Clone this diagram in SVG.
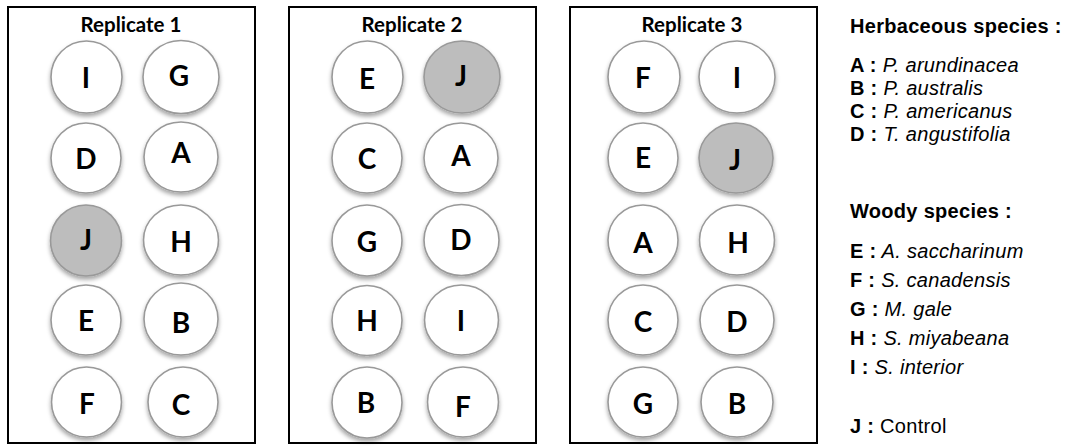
<svg xmlns="http://www.w3.org/2000/svg" width="1065" height="446" viewBox="0 0 1065 446">
<defs>
<style>
.box{fill:#fff;stroke:#000;stroke-width:2}
.c{fill:#fff;stroke:#999;stroke-width:1.6;filter:url(#sh)}
.g{fill:#bdbdbd;stroke:#999;stroke-width:1.6;filter:url(#sh)}
.l{font-family:Lato,"Open Sans","DejaVu Sans",sans-serif;font-weight:700;font-size:28px;fill:#000;text-anchor:middle}
.t{font-family:Lato,"Open Sans","DejaVu Sans",sans-serif;font-weight:700;font-size:20.5px;fill:#000;text-anchor:middle}
.leg{font-family:"Liberation Sans",Arial,sans-serif;font-size:20px;letter-spacing:0.3px;fill:#000}
.b{font-weight:700}
.i{font-style:italic}
</style>
<filter id="sh" x="-30%" y="-30%" width="160%" height="170%">
<feDropShadow dx="0" dy="3" stdDeviation="2.2" flood-color="#000" flood-opacity="0.35"/>
</filter>
</defs>
<rect width="1065" height="446" fill="#fff"/>

<g id="replicate1">
<rect class="box" x="8" y="7" width="247" height="436"/>
<text class="t" x="131" y="32">Replicate 1</text>
<g id="r1-I"><ellipse class="c" cx="86.5" cy="77" rx="35.5" ry="36"/><text class="l" x="86" y="88">I</text></g>
<g id="r1-G"><ellipse class="c" cx="181" cy="77" rx="38" ry="36.5"/><text class="l" x="179" y="86">G</text></g>
<g id="r1-D"><ellipse class="c" cx="86" cy="158" rx="35" ry="35"/><text class="l" x="86" y="169">D</text></g>
<g id="r1-A"><ellipse class="c" cx="181" cy="157" rx="37" ry="35"/><text class="l" x="181" y="163">A</text></g>
<g id="r1-J"><ellipse class="g" cx="86" cy="240.5" rx="35.5" ry="35.5"/><text class="l" x="86" y="250">J</text></g>
<g id="r1-H"><ellipse class="c" cx="181" cy="240" rx="37.5" ry="35"/><text class="l" x="181" y="252">H</text></g>
<g id="r1-E"><ellipse class="c" cx="86" cy="320" rx="35" ry="35"/><text class="l" x="86" y="331">E</text></g>
<g id="r1-B"><ellipse class="c" cx="181" cy="319" rx="37" ry="36"/><text class="l" x="181" y="333">B</text></g>
<g id="r1-F"><ellipse class="c" cx="86.5" cy="402" rx="35" ry="35"/><text class="l" x="87" y="414">F</text></g>
<g id="r1-C"><ellipse class="c" cx="183" cy="402" rx="35" ry="35"/><text class="l" x="181" y="415">C</text></g>
</g>

<g id="replicate2">
<rect class="box" x="289" y="7" width="247" height="436"/>
<text class="t" x="412" y="32">Replicate 2</text>
<g id="r2-E"><ellipse class="c" cx="367.5" cy="77" rx="35.5" ry="36"/><text class="l" x="367" y="89">E</text></g>
<g id="r2-J"><ellipse class="g" cx="462" cy="77" rx="38" ry="36"/><text class="l" x="461" y="86">J</text></g>
<g id="r2-C"><ellipse class="c" cx="367" cy="158" rx="35" ry="35"/><text class="l" x="367" y="169">C</text></g>
<g id="r2-A"><ellipse class="c" cx="461" cy="158" rx="37" ry="35"/><text class="l" x="461" y="166">A</text></g>
<g id="r2-G"><ellipse class="c" cx="367" cy="240.5" rx="35" ry="35.5"/><text class="l" x="367" y="252">G</text></g>
<g id="r2-D"><ellipse class="c" cx="461.5" cy="240" rx="37.5" ry="35.5"/><text class="l" x="461" y="250">D</text></g>
<g id="r2-H"><ellipse class="c" cx="367" cy="320.5" rx="35" ry="35"/><text class="l" x="367" y="331">H</text></g>
<g id="r2-I"><ellipse class="c" cx="461.5" cy="320" rx="37" ry="35"/><text class="l" x="461" y="331">I</text></g>
<g id="r2-B"><ellipse class="c" cx="367" cy="402.5" rx="35" ry="35.5"/><text class="l" x="366" y="413">B</text></g>
<g id="r2-F"><ellipse class="c" cx="463" cy="402" rx="35.5" ry="35"/><text class="l" x="463" y="417">F</text></g>
</g>

<g id="replicate3">
<rect class="box" x="570" y="7" width="247" height="436"/>
<text class="t" x="692" y="32">Replicate 3</text>
<g id="r3-F"><ellipse class="c" cx="644" cy="77" rx="36" ry="36"/><text class="l" x="643" y="88">F</text></g>
<g id="r3-I"><ellipse class="c" cx="737" cy="77" rx="38" ry="36"/><text class="l" x="737" y="88">I</text></g>
<g id="r3-E"><ellipse class="c" cx="643" cy="158" rx="35" ry="35"/><text class="l" x="643" y="168">E</text></g>
<g id="r3-J"><ellipse class="g" cx="736" cy="158" rx="37" ry="35"/><text class="l" x="735" y="170">J</text></g>
<g id="r3-A"><ellipse class="c" cx="643" cy="240" rx="35" ry="35"/><text class="l" x="643" y="253">A</text></g>
<g id="r3-H"><ellipse class="c" cx="737" cy="240" rx="37.5" ry="35"/><text class="l" x="738" y="253">H</text></g>
<g id="r3-C"><ellipse class="c" cx="643" cy="320" rx="35" ry="35"/><text class="l" x="643" y="332">C</text></g>
<g id="r3-D"><ellipse class="c" cx="737" cy="320" rx="37" ry="35"/><text class="l" x="737" y="332">D</text></g>
<g id="r3-G"><ellipse class="c" cx="643" cy="402" rx="35" ry="35"/><text class="l" x="643" y="414">G</text></g>
<g id="r3-B"><ellipse class="c" cx="737" cy="402" rx="36" ry="35"/><text class="l" x="737" y="414">B</text></g>
</g>

<g id="connectors"/>

<g id="legend">
<text class="leg b" x="850" y="33">Herbaceous species :</text>
<text class="leg" x="850" y="72"><tspan class="b">A :</tspan><tspan class="i"> P. arundinacea</tspan></text>
<text class="leg" x="850" y="95"><tspan class="b">B :</tspan><tspan class="i"> P. australis</tspan></text>
<text class="leg" x="850" y="118"><tspan class="b">C :</tspan><tspan class="i"> P. americanus</tspan></text>
<text class="leg" x="850" y="141"><tspan class="b">D :</tspan><tspan class="i"> T. angustifolia</tspan></text>
<text class="leg b" x="850" y="218">Woody species :</text>
<text class="leg" x="850" y="258"><tspan class="b">E :</tspan><tspan class="i"> A. saccharinum</tspan></text>
<text class="leg" x="850" y="287"><tspan class="b">F :</tspan><tspan class="i"> S. canadensis</tspan></text>
<text class="leg" x="850" y="316"><tspan class="b">G :</tspan><tspan class="i"> M. gale</tspan></text>
<text class="leg" x="850" y="345"><tspan class="b">H :</tspan><tspan class="i"> S. miyabeana</tspan></text>
<text class="leg" x="850" y="374"><tspan class="b">I :</tspan><tspan class="i"> S. interior</tspan></text>
<text class="leg" x="850" y="433"><tspan class="b">J :</tspan><tspan> Control</tspan></text>
</g>
</svg>
